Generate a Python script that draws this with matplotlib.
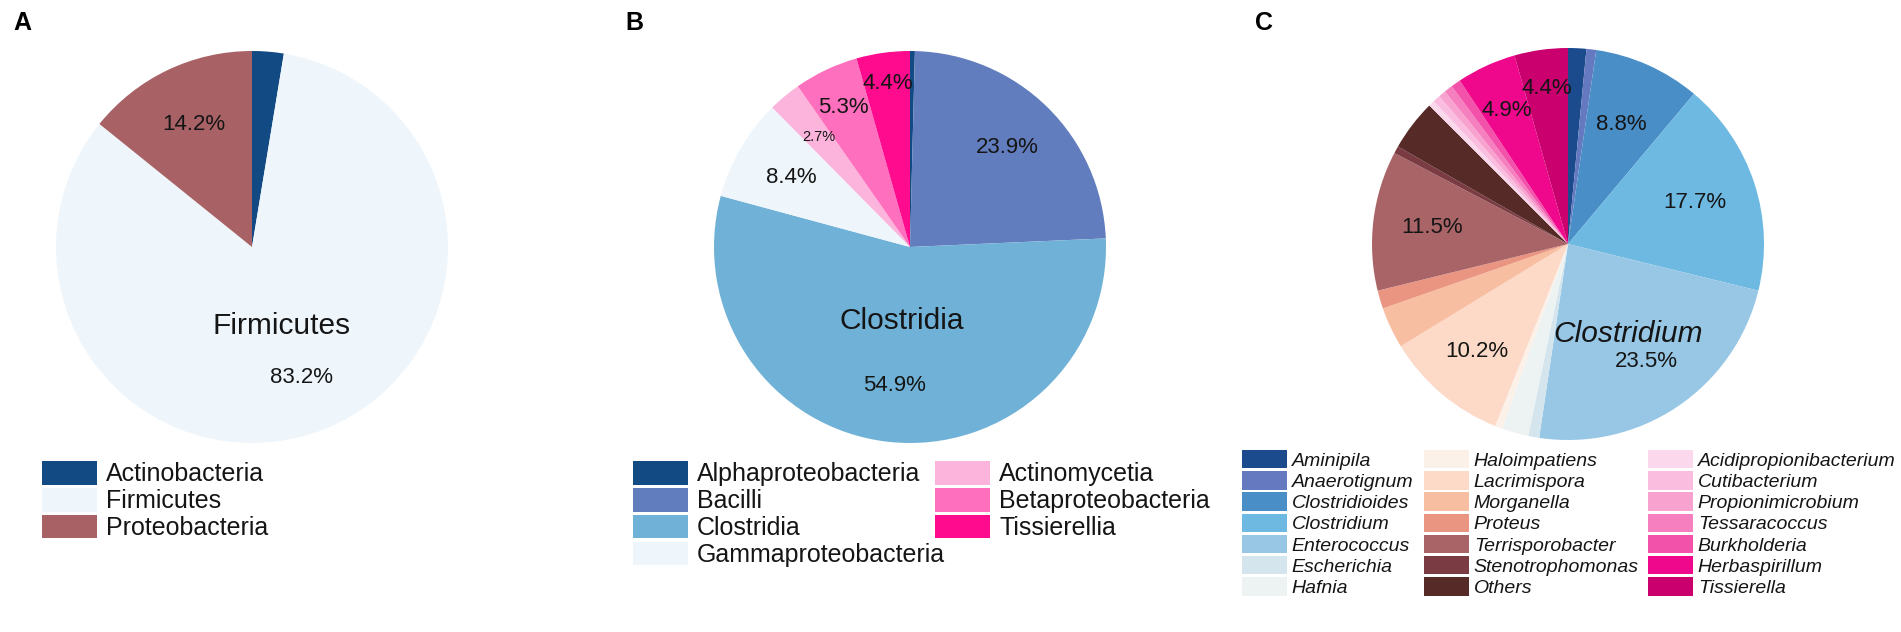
import matplotlib
matplotlib.use("Agg")
import numpy as np
import matplotlib.pyplot as plt
from matplotlib import font_manager

# ── DATA ─────────────────────────────────────
phylum_names  = ["Actinobacteria", "Firmicutes", "Proteobacteria"]
phylum_pct    = [2.6, 83.2, 14.2]
phylum_colors = ["#124a84", "#eff6fb", "#a86266"]

class_names  = ["Alphaproteobacteria", "Bacilli", "Clostridia", "Gammaproteobacteria",
                "Actinomycetia", "Betaproteobacteria", "Tissierellia"]
class_pct    = [0.4, 23.9, 54.9, 8.4, 2.7, 5.3, 4.4]
class_colors = ["#124a84", "#617dbd", "#70b1d7", "#eff6fb", "#fdb4dc", "#fe6fbd", "#fe0b8e"]

genus_names = ["Aminipila", "Anaerotignum", "Clostridioides", "Clostridium", "Enterococcus",
               "Escherichia", "Hafnia", "Haloimpatiens", "Lacrimispora", "Morganella",
               "Proteus", "Terrisporobacter", "Stenotrophomonas", "Others",
               "Acidipropionibacterium", "Cutibacterium", "Propionimicrobium",
               "Tessaracoccus", "Burkholderia", "Herbaspirillum", "Tissierella"]
genus_pct = [1.5, 0.8, 8.8, 17.7, 23.5, 0.9, 2.2, 0.6, 10.2, 3.4, 1.5, 11.5, 0.6, 4.2,
             0.5, 0.6, 0.6, 0.7, 0.8, 4.9, 4.4]
genus_colors = ["#1b4b8c", "#6479bf", "#4a8ec8", "#6db9e1", "#97c7e5", "#d5e5ee", "#edf3f2",
                "#fcf1e8", "#fddac7", "#f8bea2", "#ea9582", "#a96468", "#7b3b42", "#552a27",
                "#fcd8ec", "#fabde0", "#f8a3cf", "#f67fbf", "#f252aa", "#f0088c", "#c9006e"]

# which wedges get a % label (index -> radial position) and a name label
phylum_lbl = {1: 0.71, 2: 0.69}
class_lbl  = {1: 0.71, 2: 0.71, 3: 0.70, 4: 0.73, 5: 0.79, 6: 0.84}
genus_lbl  = {2: 0.67, 3: 0.68, 4: 0.72, 8: 0.72, 11: 0.70, 19: 0.75, 20: 0.80}

# ── STYLE ────────────────────────────────────
W, H = 1901, 632
plt.rcParams["font.family"] = ["Liberation Sans", "DejaVu Sans"]
available = {f.name for f in font_manager.fontManager.ttflist}
NARROW = "Liberation Sans Narrow" if "Liberation Sans Narrow" in available else "Liberation Sans"
PCT_SIZE = 18 if NARROW != "Liberation Sans" else 16
TXT = "#151515"
R = 196

fig = plt.figure(figsize=(W / 100, H / 100), dpi=100)
fig.patch.set_facecolor("white")


def pie_axes(cx, cy):
    return fig.add_axes([(cx - R) / W, (H - cy - R) / H, 2 * R / W, 2 * R / H])


def draw_pie(ax, values, colors, lbl, name_idx, name_text, name_d, italic=False, small=()):
    wedges, _ = ax.pie(values, colors=colors, startangle=90, counterclock=False,
                       radius=1, wedgeprops=dict(linewidth=0))
    ax.set_xlim(-1, 1)
    ax.set_ylim(-1, 1)
    ax.set_aspect("equal")
    ax.axis("off")
    for i, d in lbl.items():
        w = wedges[i]
        mid = np.deg2rad((w.theta1 + w.theta2) / 2)
        size = PCT_SIZE * 0.66 if i in small else PCT_SIZE
        ax.text(d * np.cos(mid), d * np.sin(mid), f"{values[i]}%", ha="center", va="center",
                fontsize=size, family=NARROW, color=TXT)
    w = wedges[name_idx]
    mid = np.deg2rad((w.theta1 + w.theta2) / 2)
    ax.text(name_d * np.cos(mid), name_d * np.sin(mid), name_text, ha="center", va="center",
            fontsize=21.5, color=TXT, style="italic" if italic else "normal")
    return wedges


def add_legend(handles, labels, x, y, size, hl, hh, sp, pad, italic=False):
    leg = fig.legend(handles, labels, loc="upper left",
                     bbox_to_anchor=(x / W, 1 - y / H), bbox_transform=fig.transFigure,
                     frameon=False, prop=dict(family="Liberation Sans", size=size,
                                              style="italic" if italic else "normal"),
                     handlelength=hl, handleheight=hh, labelspacing=sp,
                     handletextpad=pad, borderpad=0, borderaxespad=0)
    for t in leg.get_texts():
        t.set_color(TXT)
    return leg


# ── PANEL A ──────────────────────────────────
axA = pie_axes(252, 247)
wA = draw_pie(axA, phylum_pct, phylum_colors, phylum_lbl, 1, "Firmicutes", 0.43)
add_legend(wA, phylum_names, 42, 461, 18, 2.2, 1.08, 0.06, 0.36)

# ── PANEL B ──────────────────────────────────
axB = pie_axes(910, 247)
wB = draw_pie(axB, class_pct, class_colors, class_lbl, 2, "Clostridia", 0.38, small=(4,))
add_legend(wB[:4], class_names[:4], 633, 461, 18, 2.2, 1.08, 0.06, 0.36)
add_legend(wB[4:], class_names[4:], 935, 461, 18, 2.2, 1.08, 0.06, 0.36)

# ── PANEL C ──────────────────────────────────
axC = pie_axes(1568, 244)
wC = draw_pie(axC, genus_pct, genus_colors, genus_lbl, 4, "Clostridium", 0.55, italic=True)
for k, x in enumerate([1242, 1424, 1648]):
    add_legend(wC[7 * k:7 * k + 7], genus_names[7 * k:7 * k + 7], x, 450, 14,
               2.3, 1.08, 0.07, 0.26, italic=True)

# ── PANEL LETTERS ────────────────────────────
for letter, x in [("A", 13), ("B", 625), ("C", 1255)]:
    fig.text(x / W, 1 - 11 / H, letter, fontsize=18, fontweight="bold",
             ha="left", va="top", color="black")

fig.savefig("out.png", dpi=100, facecolor="white")
